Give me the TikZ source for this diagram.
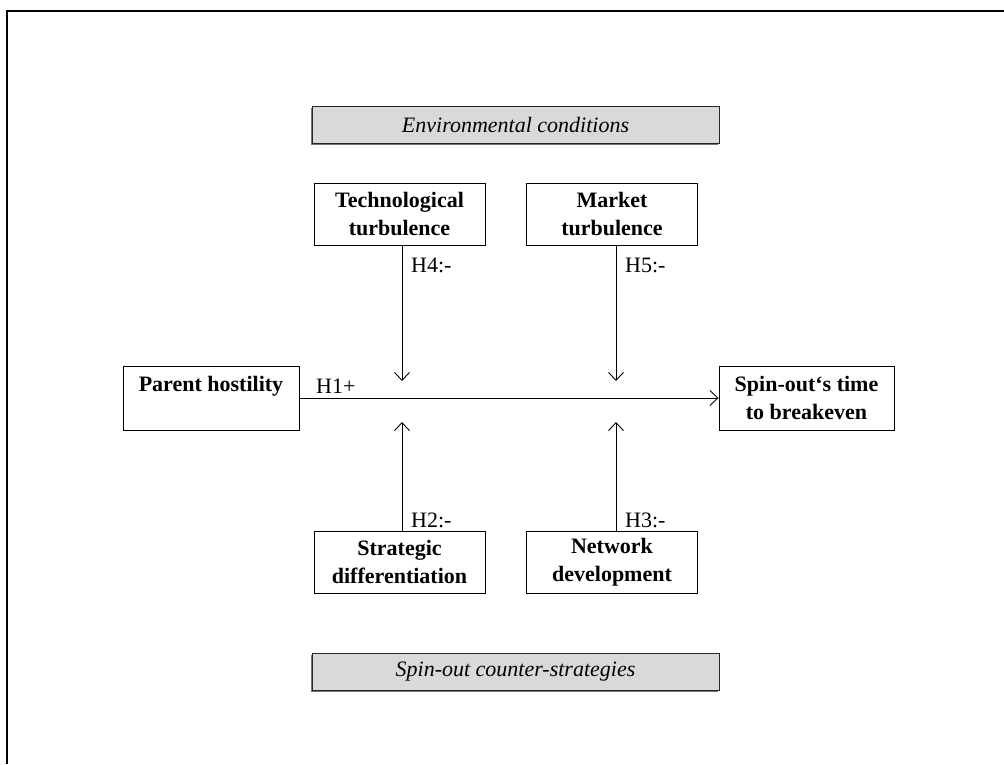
\documentclass[tikz,border=0pt]{standalone}
\usepackage{fontspec}
\setmainfont{Liberation Serif}
\usetikzlibrary{shadows,arrows.meta}

\newcommand{\figfont}{\fontsize{22}{28}\selectfont}

\tikzset{
  factor/.style={draw, line width=0.9pt, fill=white, align=center, inner sep=0pt,
    minimum width=171pt, minimum height=62pt, font=\figfont\bfseries},
  group/.style={draw=black!85, line width=1pt, fill=black!15, inner sep=0pt,
    minimum width=407pt, minimum height=37pt, font=\figfont\itshape,
    drop shadow={shadow xshift=-1.5pt, shadow yshift=-1.5pt, fill=black!55, opacity=1}},
  hyp/.style={anchor=west, inner sep=0pt, font=\figfont},
  link/.style={-{Straight Barb[length=8pt, width=15pt]}, line width=0.9pt},
}

\begin{document}
\begin{tikzpicture}[x=1pt, y=-1pt]

  \useasboundingbox (0,0) rectangle (1004,764);

  %% frame
  \draw[line width=2pt] (7,764) -- (7,11) -- (1004,11);

  %% groups
  \node[group] (env) at (515.5,124.5) {Environmental conditions};
  \node[group] (strategies) at (515.5,672) {Spin-out counter-strategies};

  %% moderators
  \node[factor] (tech) at (399.5,214) {Technological\\turbulence};
  \node[factor] (market) at (612,214) {Market\\turbulence};
  \node[factor] (diff) at (399.5,562) {Strategic\\differentiation};
  \node[factor] (network) at (612,562) {Network\\development};

  %% main effect
  \node[factor, minimum width=176pt, minimum height=64pt] (parent) at (211,398) {Parent hostility\\ \mbox{}};
  \node[factor, minimum width=175pt, minimum height=64pt] (breakeven) at (806.5,398) {Spin-out‘s time\\to breakeven};

  \coordinate (m4) at (402,381);
  \coordinate (m5) at (616,381);
  \coordinate (m2) at (402,422);
  \coordinate (m3) at (616,422);

  \draw[link] (parent) -- (breakeven);
  \draw[link] (tech.south -| m4) -- (m4);
  \draw[link] (market.south -| m5) -- (m5);
  \draw[link] (diff.north -| m2) -- (m2);
  \draw[link] (network.north -| m3) -- (m3);

  %% labels
  \node[hyp] (h1) at (316,386) {H1+};
  \node[hyp] (h4) at (411,265) {H4:-};
  \node[hyp] (h5) at (625,265) {H5:-};
  \node[hyp] (h2) at (411,520) {H2:-};
  \node[hyp] (h3) at (625,520) {H3:-};

\end{tikzpicture}
\end{document}
